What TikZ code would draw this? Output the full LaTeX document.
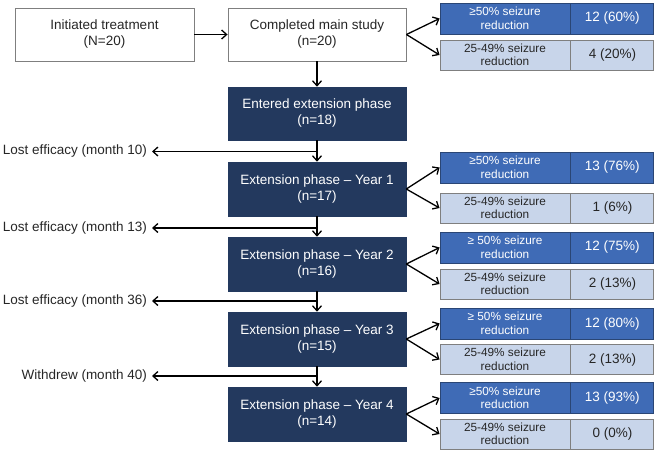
\documentclass[tikz,border=0pt]{standalone}
\usepackage{fontspec}
\setmainfont{Liberation Sans}
\usetikzlibrary{arrows.meta}
\definecolor{navy}{HTML}{23395E}
\definecolor{midblue}{HTML}{3F6BB6}
\definecolor{midborder}{HTML}{2A4675}
\definecolor{lightblue}{HTML}{C8D5EA}
\definecolor{boxgray}{HTML}{7F7F7F}
\definecolor{darktext}{HTML}{262626}
\begin{document}
\begin{tikzpicture}[x=1pt,y=-1pt,
  every node/.style={inner sep=0pt, align=center},
  plainbox/.style={draw=boxgray, line width=0.9pt, fill=white, minimum width=179pt, minimum height=53pt, text=darktext, font=\fontsize{13.5}{16}\selectfont},
  phasebox/.style={draw=navy, fill=navy, line width=0.6pt, minimum width=178pt, minimum height=54pt, text=white, font=\fontsize{13.5}{16}\selectfont},
  hiL/.style={draw=midborder, fill=midblue, line width=0.8pt, minimum width=130pt, minimum height=31pt, text=white, font=\fontsize{11.8}{13.5}\selectfont},
  hiR/.style={draw=midborder, fill=midblue, line width=0.8pt, minimum width=83pt, minimum height=31pt, text=white, font=\fontsize{13.5}{16}\selectfont, anchor=west},
  loL/.style={draw=boxgray, fill=lightblue, line width=0.9pt, minimum width=130pt, minimum height=30pt, text=darktext, font=\fontsize{11.8}{13.5}\selectfont},
  loR/.style={draw=boxgray, fill=lightblue, line width=0.9pt, minimum width=83pt, minimum height=30pt, text=darktext, font=\fontsize{13.5}{16}\selectfont, anchor=west},
  sidelabel/.style={anchor=east, inner xsep=5pt, text=darktext, font=\fontsize{13.5}{16}\selectfont},
  arr/.style={-{Straight Barb[length=5pt,width=9pt]}, line width=1.3pt, black}
]
\useasboundingbox (0,0) rectangle (655,450);

% main column
\node[plainbox] (init) at (104.5,34.5) {Initiated treatment\\(N=20)};
\node[plainbox, minimum width=178pt] (comp) at (317,34.5) {Completed main study\\(n=20)};
\node[phasebox, minimum height=53pt] (ent) at (317,113.5) {Entered extension phase\\(n=18)};
\node[phasebox] (y1) at (317,189) {Extension phase -- Year 1\\(n=17)};
\node[phasebox] (y2) at (317,264) {Extension phase -- Year 2\\(n=16)};
\node[phasebox] (y3) at (317,339) {Extension phase -- Year 3\\(n=15)};
\node[phasebox] (y4) at (317,414) {Extension phase -- Year 4\\(n=14)};

% tables
\node[hiL] (t0a) at (505,18.5) {≥50\% seizure\\reduction};
\node[hiR] (t0an) at (t0a.east) {12 (60\%)};
\node[loL] (t0b) at (505,55) {25-49\% seizure\\reduction};
\node[loR] (t0bn) at (t0b.east) {4 (20\%)};

\node[hiL] (t1a) at (505,167.5) {≥50\% seizure\\reduction};
\node[hiR] (t1an) at (t1a.east) {13 (76\%)};
\node[loL] (t1b) at (505,208) {25-49\% seizure\\reduction};
\node[loR] (t1bn) at (t1b.east) {1 (6\%)};

\node[hiL] (t2a) at (505,247.5) {≥ 50\% seizure\\reduction};
\node[hiR] (t2an) at (t2a.east) {12 (75\%)};
\node[loL] (t2b) at (505,284) {25-49\% seizure\\reduction};
\node[loR] (t2bn) at (t2b.east) {2 (13\%)};

\node[hiL] (t3a) at (505,323.5) {≥ 50\% seizure\\reduction};
\node[hiR] (t3an) at (t3a.east) {12 (80\%)};
\node[loL] (t3b) at (505,359.5) {25-49\% seizure\\reduction};
\node[loR] (t3bn) at (t3b.east) {2 (13\%)};

\node[hiL] (t4a) at (505,398) {≥50\% seizure\\reduction};
\node[hiR] (t4an) at (t4a.east) {13 (93\%)};
\node[loL] (t4b) at (505,434) {25-49\% seizure\\reduction};
\node[loR] (t4bn) at (t4b.east) {0 (0\%)};

% side labels
\node[sidelabel] (l1) at (152,151.5) {Lost efficacy (month 10)};
\node[sidelabel] (l2) at (152,228) {Lost efficacy (month 13)};
\node[sidelabel] (l3) at (152,301) {Lost efficacy (month 36)};
\node[sidelabel] (l4) at (152,376) {Withdrew (month 40)};
\coordinate (j1) at (317,151.5);
\coordinate (j2) at (317,228);
\coordinate (j3) at (317,301);
\coordinate (j4) at (317,376);

% connectors
\draw[arr] (init) -- (comp);
\draw[arr] (comp) -- (ent);
\draw[arr] (ent) -- (y1);
\draw[arr] (y1) -- (y2);
\draw[arr] (y2) -- (y3);
\draw[arr] (y3) -- (y4);
\draw[arr] (j1) -- (l1.east);
\draw[arr] (j2) -- (l2.east);
\draw[arr] (j3) -- (l3.east);
\draw[arr] (j4) -- (l4.east);

\draw[arr] (comp.east) -- (t0a.west);
\draw[arr] (comp.east) -- (t0b.west);
\draw[arr] (y1.east) -- (t1a.west);
\draw[arr] (y1.east) -- (t1b.west);
\draw[arr] (y2.east) -- (t2a.west);
\draw[arr] (y2.east) -- (t2b.west);
\draw[arr] (y3.east) -- (t3a.west);
\draw[arr] (y3.east) -- (t3b.west);
\draw[arr] (y4.east) -- (t4a.west);
\draw[arr] (y4.east) -- (t4b.west);
\end{tikzpicture}
\end{document}
